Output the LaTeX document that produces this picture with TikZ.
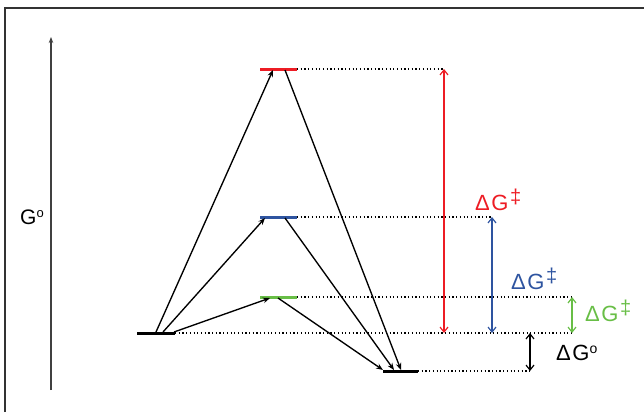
\documentclass[tikz,border=0pt]{standalone}
\usepackage{fontspec}
\setmainfont{Liberation Sans}
\usetikzlibrary{arrows.meta}
\definecolor{cred}{RGB}{237,28,36}
\definecolor{cblue}{RGB}{46,84,160}
\definecolor{cgreen}{RGB}{104,190,70}
\newcommand{\dgdag}{Δ\kern1.5pt G\kern1.5pt\raisebox{0.3em}{\fontsize{20}{20}\selectfont ‡}}
\begin{document}
\begin{tikzpicture}[x=1pt,y=-1pt,
  level/.style={line width=3pt},
  guide/.style={dash pattern=on 1.2pt off 2.5pt,line width=1.3pt},
  react/.style={-{Stealth[length=7pt,width=5.5pt]},line width=1.35pt},
  gap/.style={{Straight Barb[length=5pt,width=8pt]}-{Straight Barb[length=5pt,width=8pt]},line width=1.2pt},
  lab/.style={font=\fontsize{22}{24}\selectfont,inner sep=0pt}]
\useasboundingbox (0,0) rectangle (644,412);
\draw[line width=1.3pt,black!80] (5,412) -- (5,8) -- (644,8);
% axis
\coordinate (ax0) at (51,390);
\coordinate (ax1) at (51,37);
\draw[-{Stealth[length=6pt,width=4.5pt]},line width=1.1pt,black!75] (ax0) -- (ax1);
\node[font=\fontsize{21}{23}\selectfont,inner sep=0pt] (gaxis) at (32,217) {G\raisebox{0.32em}{\fontsize{13}{13}\selectfont o}};
% levels
\coordinate (rL) at (137,333); \coordinate (rR) at (175,333);
\coordinate (pL) at (383,371); \coordinate (pR) at (418,371);
\coordinate (aL) at (260,69);  \coordinate (aR) at (297,69);
\coordinate (bL) at (260,217); \coordinate (bR) at (297,217);
\coordinate (cL) at (260,297); \coordinate (cR) at (297,297);
% dotted guides
\coordinate (ag) at (444,69);
\coordinate (bg) at (492,217);
\coordinate (cg) at (572,297);
\coordinate (rg) at (572,333);
\coordinate (pg) at (530,371);
\draw[guide] (aR) -- (ag);
\draw[guide] (bR) -- (bg);
\draw[guide] (cR) -- (cg);
\draw[guide] (rR) -- (rg);
\draw[guide] (pR) -- (pg);
\draw[level] (rL) -- (rR);
\draw[level] (pL) -- (pR);
\draw[level,cred] (aL) -- (aR);
\draw[level,cblue] (bL) -- (bR);
\draw[level,cgreen] (cL) -- (cR);
% reaction arrows
\coordinate (s1) at (156,332); \coordinate (e1) at (273,70);
\coordinate (s2) at (163,332); \coordinate (e2) at (265,218);
\coordinate (s3) at (174,332); \coordinate (e3) at (270,298);
\coordinate (t1) at (285,70);  \coordinate (f1) at (401,370);
\coordinate (t2) at (285,218); \coordinate (f2) at (394,370);
\coordinate (t3) at (278,298); \coordinate (f3) at (383,370);
\draw[react] (s1) -- (e1);
\draw[react] (s2) -- (e2);
\draw[react] (s3) -- (e3);
\draw[react] (t1) -- (f1);
\draw[react] (t2) -- (f2);
\draw[react] (t3) -- (f3);
% gap arrows
\coordinate (ra) at (444,333); \coordinate (ba) at (492,333);
\coordinate (ca) at (572,333); \coordinate (ka) at (530,333);
\draw[gap,cred] (ag) -- (ra);
\draw[gap,cblue] (bg) -- (ba);
\draw[gap,cgreen] (cg) -- (ca);
\draw[gap] (ka) -- (pg);
% labels
\node[lab,text=cred,anchor=west] (l1) at (475,200) {\dgdag};
\node[lab,text=cblue,anchor=west] (l2) at (511,279) {\dgdag};
\node[lab,text=cgreen,anchor=west] (l3) at (585,311) {\dgdag};
\node[lab,anchor=west] (l4) at (556,353) {Δ\kern1.5pt G\raisebox{0.3em}{\fontsize{14}{14}\selectfont o}};
\end{tikzpicture}
\end{document}
